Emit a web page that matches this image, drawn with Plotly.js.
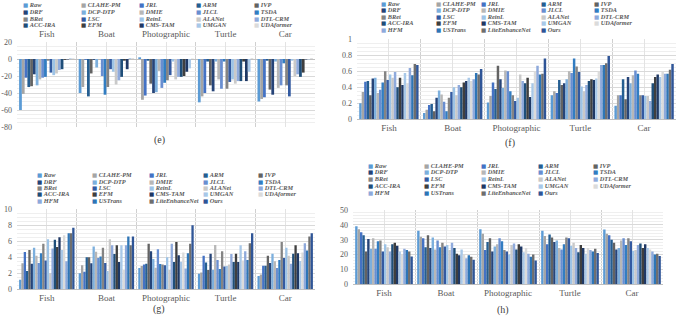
<!DOCTYPE html>
<html>
<head>
<meta charset="utf-8">
<script src="https://cdn.plot.ly/plotly-3.0.1.min.js"></script>
<style>
  html, body { margin: 0; padding: 0; background: #ffffff; }
  #chart { width: 677px; height: 316px; }
</style>
</head>
<body>
<div id="chart"></div>
<script>
// Scene categories shared by all four panels
const categories = ['Fish', 'Boat', 'Photographic', 'Turtle', 'Car'];

// Enhancement methods, in legend order
const methods = [
  'Raw', 'CLAHE-PM', 'JRL', 'ARM', 'IVP',
  'DRF', 'DCP-DTP', 'DMIE', 'JLCL', 'TSDA',
  'BRet', 'LSC', 'ReinL', 'ALANet', 'DTL-CRM',
  'ACC-IRA', 'EFM', 'CMS-TAM', 'UMGAN', 'UDAformer',
  'HFM', 'USTrans', 'LiteEnhanceNet', 'Ours'
];

const colors = [
  '#5B9BD5', '#A5A5A5', '#4472C4', '#255E91', '#636363',
  '#264478', '#7CAFDD', '#B7B7B7', '#698ED0', '#327DC2',
  '#848484', '#335AA1', '#9DC3E6', '#C9C9C9', '#8FAADC',
  '#1F4E79', '#3F3F3F', '#1F3864', '#A8C8E8', '#DBDBDB',
  '#8EA9DB', '#2E75B6', '#6E6E6E', '#2F5597'
];

// Panel (e): first 20 methods, values per scene
const eFish   = [-60, -41, -22, -33, -32, -18, -31, -24, -22, -21, -2, -16, -19, -17, -13, -12, -1, -0.5, 0.8, 0.8];
const eBoat   = [-40, -33, -1, -44, -17, -1, -10, -1, -20, -42, -33, -12, -15, -30, -25, -21, -2, -12, 1, 1];
const ePhoto  = [2, -48, -43, -2, -29, -40, -39, -14, -34, -28, -25, -19, -3, -24, -21, -21, -20, -15, -11, 0.6];
const eTurtle = [-51, -44, -40, -3, -31, -38, -3, -24, -35, -3, -35, -27, -24, -29, -26, -26, -3, -26, -15, 1];
const eCar    = [-50, -47, -45, -2, -36, -42, -3, -34, -31, -5, -31, -44, -2, -20, -18, -21, -16, -0.5, -0.5, 1];

// Panel (f)
const fFish   = [0.20, 0.34, 0.47, 0.48, 0.30, 0.51, 0.52, 0.33, 0.37, 0.46, 0.60, 0.49, 0.56, 0.52, 0.59, 0.40, 0.52, 0.43, 0.58, 0.45, 0.64, 0.55, 0.69, 0.68];
const fBoat   = [0.08, 0.12, 0.18, 0.19, 0.10, 0.27, 0.36, 0.31, 0.22, 0.10, 0.27, 0.34, 0.40, 0.30, 0.43, 0.40, 0.46, 0.48, 0.52, 0.48, 0.50, 0.58, 0.56, 0.63];
const fPhoto  = [0.21, 0.29, 0.46, 0.38, 0.67, 0.50, 0.39, 0.61, 0.60, 0.35, 0.30, 0.23, 0.27, 0.56, 0.48, 0.45, 0.52, 0.28, 0.45, 0.60, 0.67, 0.56, 0.57, 0.76];
const fTurtle = [0.30, 0.35, 0.33, 0.49, 0.43, 0.45, 0.50, 0.60, 0.58, 0.76, 0.66, 0.59, 0.41, 0.35, 0.43, 0.48, 0.50, 0.49, 0.51, 0.60, 0.68, 0.68, 0.70, 0.79];
const fCar    = [0.17, 0.30, 0.30, 0.50, 0.25, 0.53, 0.45, 0.55, 0.61, 0.57, 0.30, 0.30, 0.29, 0.29, 0.23, 0.45, 0.53, 0.56, 0.53, 0.60, 0.57, 0.57, 0.62, 0.69];

// Panel (g)
const gFish   = [1.2, 3.25, 4.67, 2.3, 4.9, 3.2, 5.2, 4.2, 3.3, 4.5, 5.7, 3.6, 6.25, 2.0, 5.1, 6.2, 5.3, 6.5, 4.9, 6.75, 3.5, 7.0, 7.0, 7.7];
const gBoat   = [2.0, 3.0, 2.2, 4.0, 4.0, 3.25, 5.35, 4.7, 3.9, 4.1, 5.2, 3.3, 2.3, 6.25, 5.5, 4.4, 5.5, 3.4, 5.5, 2.4, 5.5, 6.6, 5.5, 6.6];
const gPhoto  = [2.65, 2.9, 3.1, 3.2, 5.7, 4.75, 3.8, 2.7, 5.0, 3.15, 3.1, 3.0, 4.0, 2.4, 5.7, 3.4, 5.9, 4.25, 3.45, 4.6, 2.6, 4.5, 5.7, 8.0];
const gTurtle = [1.95, 2.1, 4.2, 3.35, 2.4, 4.45, 2.45, 5.55, 3.65, 2.55, 4.75, 2.85, 2.9, 3.1, 4.4, 3.4, 4.45, 3.4, 5.5, 3.6, 4.75, 3.65, 5.75, 7.0];
const gCar    = [1.65, 1.85, 2.95, 2.95, 4.2, 3.3, 4.45, 3.5, 2.65, 3.65, 5.9, 3.9, 5.2, 4.2, 3.2, 4.45, 5.5, 4.5, 3.55, 4.6, 5.75, 4.85, 6.6, 7.0];

// Panel (h)
const hFish   = [39, 37, 35, 33, 22, 30.5, 24, 31, 24, 29, 29.5, 22, 27, 25, 22, 27, 28, 26, 22, 20, 24, 23, 22, 18.7];
const hBoat   = [36, 32, 31, 25, 33, 24.5, 31.5, 23.5, 29.5, 25, 28, 25.5, 26.5, 23, 28, 24.5, 20.5, 19.5, 23.5, 20, 17.5, 19.5, 18.5, 16.5];
const hPhoto  = [37, 34, 23, 28.5, 31, 22, 25.5, 27, 31, 29, 23, 22, 20, 26.5, 27.5, 23.5, 27, 25.5, 21.5, 24.5, 20.5, 18.5, 20, 16];
const hTurtle = [36, 32.5, 27, 33.5, 31.5, 28.5, 29.5, 24.5, 23.5, 27, 31.5, 31, 26, 28, 24.5, 21.5, 26.5, 24.5, 20.5, 24.5, 23, 22, 24, 21];
const hCar    = [36.8, 34, 33, 30, 28, 23.5, 24.5, 29.5, 31, 26.5, 31, 29, 22.5, 23, 26.5, 27.5, 24.5, 27, 24.5, 23.5, 22, 20, 20.5, 19];

// ---- layout helpers (pixel -> paper) ----
const W = 677, H = 316;
const px = v => v / W;
const py = v => 1 - v / H;
const FONT = 'Liberation Serif, Times New Roman, serif';
const TEXT = '#595959';

const panels = [
  { tag: '(e)', rows: [eFish, eBoat, ePhoto, eTurtle, eCar], n: 20, ax: '',
    xPix: [17, 315], yPix: [42, 127], range: [-80, 20], major: 20, minor: 5, side: 'top',
    legCols: [21.5, 79.5, 137.5, 195, 253], legRows: [5, 11.7, 18.3, 25], caption: [159, 140] },
  { tag: '(f)', rows: [fFish, fBoat, fPhoto, fTurtle, fCar], n: 24, ax: '2',
    xPix: [357, 676], yPix: [39.3, 119.3], range: [0, 1], major: 0.2, minor: 0.05, side: 'bottom',
    legCols: [379.5, 434.5, 479.5, 539.5, 593], legRows: [3.2, 9.8, 16.3, 22.8, 29.3], caption: [510, 143] },
  { tag: '(g)', rows: [gFish, gBoat, gPhoto, gTurtle, gCar], n: 24, ax: '3',
    xPix: [17, 315], yPix: [209.3, 289.3], range: [0, 10], major: 2, minor: 0.5, side: 'bottom',
    legCols: [35.5, 91.5, 147.5, 201.5, 256.5], legRows: [174.7, 181, 187.4, 193.8, 200.2], caption: [159, 308.7] },
  { tag: '(h)', rows: [hFish, hBoat, hPhoto, hTurtle, hCar], n: 24, ax: '4',
    xPix: [353, 663], yPix: [210, 284.3], range: [0, 50], major: 10, minor: 2, side: 'bottom',
    legCols: [366.5, 423, 479.5, 536.5, 592], legRows: [165, 171.8, 178.6, 185.4, 192.2], caption: [503, 310] }
];

const xIdx = categories.map((_, i) => i);
const boundaries = categories.map((_, i) => i - 0.5).concat([categories.length - 0.5]);

const traces = [];
const layout = {
  width: W, height: H,
  margin: { l: 0, r: 0, t: 0, b: 0 },
  paper_bgcolor: '#ffffff', plot_bgcolor: '#ffffff',
  barmode: 'group', bargap: 0.07, bargroupgap: 0,
  showlegend: false,
  font: { family: FONT, color: TEXT },
  annotations: []
};

function steps(lo, hi, step) {
  const out = [];
  const n = Math.round((hi - lo) / step);
  for (let k = 0; k <= n; k++) out.push(+(lo + k * step).toFixed(4));
  return out;
}

panels.forEach(p => {
  const xa = 'x' + p.ax, ya = 'y' + p.ax;
  for (let m = 0; m < p.n; m++) {
    traces.push({
      type: 'bar', name: methods[m], xaxis: xa, yaxis: ya,
      x: xIdx, y: p.rows.map(r => r[m]),
      marker: { color: colors[m], line: { width: 0 } },
      hoverinfo: 'name+y'
    });
  }
  const majorVals = steps(p.range[0], p.range[1], p.major);
  layout['xaxis' + p.ax] = {
    domain: [px(p.xPix[0]), px(p.xPix[1])], anchor: ya, side: p.side,
    range: [-0.5, categories.length - 0.5],
    tickmode: 'array', tickvals: xIdx, ticktext: categories,
    ticks: '', showgrid: true, gridcolor: '#E3E3E3', gridwidth: 1,
    minor: { tickmode: 'array', tickvals: boundaries, showgrid: true, gridcolor: '#D0D0D0' },
    zeroline: false, showline: false, fixedrange: true,
    ticklabelstandoff: 2,
    tickfont: { family: FONT, size: 9, color: TEXT }
  };
  layout['yaxis' + p.ax] = {
    domain: [py(p.yPix[1]), py(p.yPix[0])], anchor: xa,
    range: p.range,
    tickmode: 'array', tickvals: majorVals, ticktext: majorVals.map(v => String(v)),
    ticks: '', showgrid: true, gridcolor: '#D9D9D9', gridwidth: 1,
    minor: { tickmode: 'array', tickvals: steps(p.range[0], p.range[1], p.minor), showgrid: true, gridcolor: '#EFEFEF' },
    zeroline: true, zerolinecolor: '#BFBFBF', zerolinewidth: 1,
    showline: false, fixedrange: true, ticklabelstandoff: 4,
    tickfont: { family: FONT, size: 8, color: TEXT }
  };

  // legend block: five entries per row
  for (let m = 0; m < p.n; m++) {
    const c = m % 5, r = Math.floor(m / 5);
    layout.annotations.push({
      xref: 'paper', yref: 'paper',
      x: px(p.legCols[c]), y: py(p.legRows[r]),
      xanchor: 'left', yanchor: 'middle', showarrow: false, borderpad: 0,
      text: '<span style="color:' + colors[m] + ';font-family:DejaVu Sans;font-size:5.5px">■</span> <b><i>' + methods[m] + '</i></b>',
      font: { family: FONT, size: 6.3, color: TEXT }
    });
  }
  // panel caption
  layout.annotations.push({
    xref: 'paper', yref: 'paper', x: px(p.caption[0]), y: py(p.caption[1]),
    xanchor: 'center', yanchor: 'middle', showarrow: false,
    text: p.tag, font: { family: FONT, size: 10, color: '#404040' }
  });
});

Plotly.newPlot('chart', traces, layout, { staticPlot: true, displayModeBar: false });
</script>
</body>
</html>
